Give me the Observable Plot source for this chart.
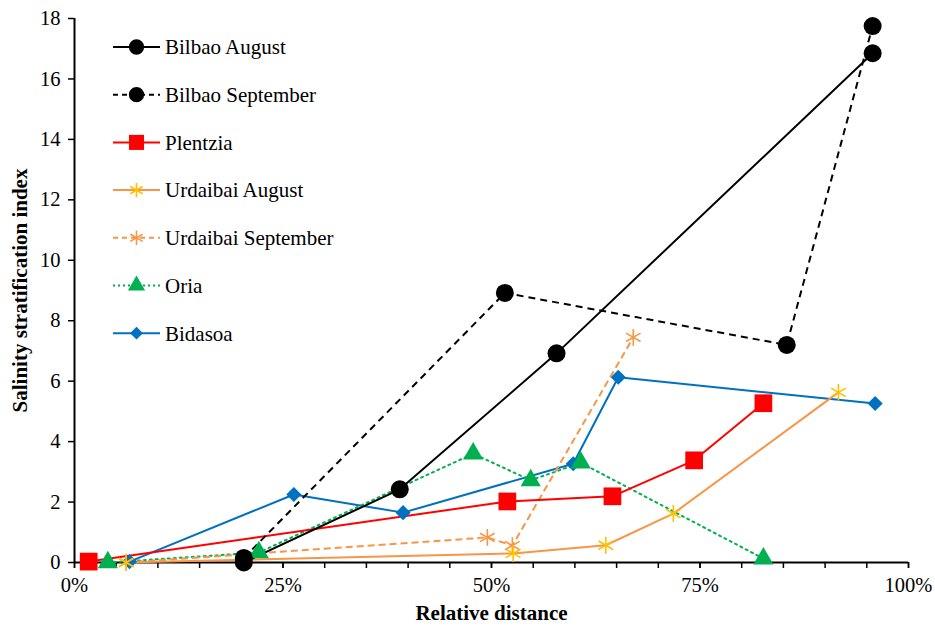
<!DOCTYPE html>
<html><head><meta charset="utf-8">
<script src="https://cdn.jsdelivr.net/npm/d3@7"></script>
<script src="https://cdn.jsdelivr.net/npm/@observablehq/plot@0.6"></script>
<style>
html,body{margin:0;padding:0;background:#fff;}
#chart{width:935px;height:630px;}
</style>
</head><body><div id="chart"></div>
<script>
// Data (x = relative distance as fraction, y = index)
const bilbaoAugX = [0.203, 0.390, 0.578, 0.957];
const bilbaoAugY = [0.0, 2.42, 6.92, 16.85];
const bilbaoSepX = [0.203, 0.516, 0.854, 0.957];
const bilbaoSepY = [0.15, 8.92, 7.2, 17.75];
const plentziaX = [0.017, 0.519, 0.645, 0.743, 0.826];
const plentziaY = [0.03, 2.02, 2.19, 3.38, 5.27];
const urdAugX = [0.062, 0.526, 0.637, 0.718, 0.916];
const urdAugY = [0.0, 0.30, 0.57, 1.62, 5.63];
const urdSepX = [0.062, 0.495, 0.525, 0.670];
const urdSepY = [0.0, 0.83, 0.56, 7.45];
const oriaX = [0.040, 0.221, 0.478, 0.547, 0.607, 0.826];
const oriaY = [0.0, 0.33, 3.6, 2.72, 3.3, 0.13];
const bidasoaX = [0.066, 0.263, 0.394, 0.598, 0.652, 0.960];
const bidasoaY = [0.03, 2.25, 1.65, 3.27, 6.13, 5.26];

const seriesNames = ["Bilbao August","Bilbao September","Plentzia","Urdaibai August","Urdaibai September","Oria","Bidasoa"];
const xTicks = [0, 0.25, 0.5, 0.75, 1];
const xMinorTicks = d3.range(0, 21).map(i => i * 0.05);
const yTicks = [0,2,4,6,8,10,12,14,16,18];

const FONT = "Times New Roman, Liberation Serif, DejaVu Serif, serif";

const styles = [
  {stroke:"#000000", dash:null, symbol:"circle", fill:"#000000", mstroke:"none", r:9},
  {stroke:"#000000", dash:"7,5", symbol:"circle", fill:"#000000", mstroke:"none", r:9},
  {stroke:"#FF0000", dash:null, symbol:"square", fill:"#FF0000", mstroke:"none", r:10},
  {stroke:"#F79646", dash:null, symbol:"asterisk", fill:"none", mstroke:"#FFC000", r:8},
  {stroke:"#F79646", dash:"7,4", symbol:"asterisk", fill:"none", mstroke:"#F79646", r:8},
  {stroke:"#00B050", dash:"2,4", symbol:"triangle", fill:"#00B050", mstroke:"none", r:7.5},
  {stroke:"#0070C0", dash:null, symbol:"diamond2", fill:"#0070C0", mstroke:"none", r:6.8}
];
const xs = [bilbaoAugX, bilbaoSepX, plentziaX, urdAugX, urdSepX, oriaX, bidasoaX];
const ys = [bilbaoAugY, bilbaoSepY, plentziaY, urdAugY, urdSepY, oriaY, bidasoaY];
const series = seriesNames.map((name, i) => xs[i].map((x, j) => ({name, x, y: ys[i][j]})));

const order = [6, 5, 4, 3, 2, 1, 0];
const marks = [];
for (const i of order) {
  const s = styles[i];
  marks.push(Plot.line(series[i], {x:"x", y:"y", stroke:s.stroke, strokeWidth:2, strokeDasharray:s.dash, strokeLinecap:s.dash==="2,4"?"round":"butt"}));
}
for (const i of order) {
  const s = styles[i];
  marks.push(Plot.dot(series[i], {x:"x", y:"y", symbol:s.symbol, r:s.r, fill:s.fill, stroke:s.mstroke, strokeWidth: s.symbol==="asterisk"?1.6:0}));
}

const chart = Plot.plot({
  width: 935, height: 630,
  marginLeft: 74, marginRight: 27, marginTop: 18, marginBottom: 68,
  style: {fontFamily: FONT, fontSize: "20px", color: "#000", background:"#fff"},
  x: {domain:[0,1]},
  y: {domain:[0,18]},
  marks: [
    Plot.axisX({ticks: xMinorTicks, tickSize: 6, tickFormat: () => "", strokeWidth: 1.5, label: null}),
    Plot.axisX({ticks: xTicks, tickSize: 6, tickPadding: 9, tickFormat: d3.format(".0%"), strokeWidth: 1.5, fontSize: 20.5, label: null}),
    Plot.axisY({ticks: yTicks, tickSize: 6, tickPadding: 8, strokeWidth: 1.5, fontSize: 20.5, label: null}),
    Plot.ruleY([0], {stroke:"#000", strokeWidth:2}),
    Plot.ruleX([0], {stroke:"#000", strokeWidth:2}),
    ...marks,
    Plot.text(["Relative distance"], {frameAnchor:"bottom", dy: 57, fontWeight:"bold", fontSize:21}),
    Plot.text(["Salinity stratification index"], {frameAnchor:"left", textAnchor:"middle", dx: -54, rotate:-90, fontWeight:"bold", fontSize:21})
  ]
});
document.getElementById("chart").appendChild(chart);

// Legend inside the plot, top-left
const svg = d3.select(chart);
const lg = svg.append("g").attr("transform", "translate(113,47)").attr("text-anchor","start");
seriesNames.forEach((name, i) => {
  const s = styles[i];
  const g = lg.append("g").attr("transform", `translate(0,${i*47.7})`);
  g.append("line").attr("x1",0).attr("x2",47).attr("y1",0).attr("y2",0)
    .attr("stroke", s.stroke).attr("stroke-width",2)
    .attr("stroke-dasharray", s.dash ? (s.dash==="2,4" ? "2,3" : "5,4") : null);
  const sym = {circle:d3.symbolCircle, square:d3.symbolSquare, asterisk:d3.symbolAsterisk, triangle:d3.symbolTriangle, diamond2:d3.symbolDiamond2}[s.symbol];
  const rr = s.r * 0.85;
  g.append("path").attr("transform","translate(23.5,0)")
    .attr("d", d3.symbol(sym, Math.PI*rr*rr)())
    .attr("fill", s.fill).attr("stroke", s.mstroke).attr("stroke-width", s.symbol==="asterisk"?1.6:0);
  g.append("text").attr("x",52).attr("y",0).attr("dy","0.35em").attr("text-anchor","start")
    .attr("font-size",21).attr("fill","#000").text(name);
});
svg.selectAll("text").attr("font-family", FONT);
</script>
</body></html>
